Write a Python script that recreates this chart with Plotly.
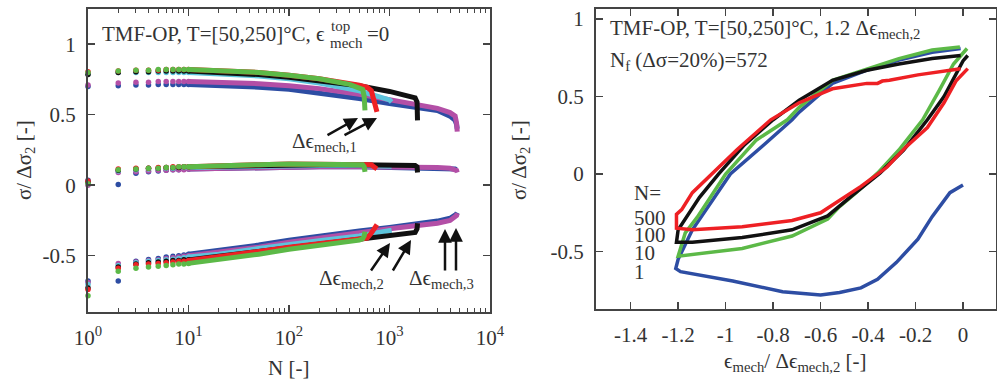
import plotly.graph_objects as go

W, H = 997, 381
FONT = "Liberation Serif, Times New Roman, Times, serif"
TXT = "#333333"
AX = "#444444"

# ---------------- left panel: normalised max / mean / min stress per cycle ----------------
BLUE_N = [1, 2, 3, 4, 5, 6, 7, 8, 9, 10, 20, 50, 100, 200, 500, 1000, 2000, 3000, 4000, 4500, 4650, 4720]
BLUE_MAX = [0.70, 0.705, 0.71, 0.71, 0.715, 0.715, 0.715, 0.715, 0.715, 0.715, 0.71, 0.695, 0.68, 0.655, 0.615, 0.58, 0.55, 0.53, 0.49, 0.46, 0.43, 0.40]
BLUE_MEAN = [0.035, 0.005, 0.085, 0.095, 0.10, 0.105, 0.11, 0.11, 0.115, 0.115, 0.12, 0.125, 0.13, 0.13, 0.13, 0.125, 0.125, 0.125, 0.12, 0.115, 0.11, 0.11]
BLUE_MIN = [-0.68, -0.68, -0.54, -0.527, -0.52, -0.51, -0.505, -0.50, -0.495, -0.49, -0.465, -0.425, -0.39, -0.36, -0.325, -0.30, -0.275, -0.255, -0.235, -0.215, -0.205, -0.195]

MAGENTA_N = [1, 2, 3, 4, 5, 6, 7, 8, 9, 10, 20, 50, 100, 200, 500, 1000, 2000, 3000, 4000, 4500, 4650, 4720]
MAGENTA_MAX = [0.71, 0.725, 0.73, 0.73, 0.735, 0.735, 0.735, 0.735, 0.735, 0.735, 0.73, 0.72, 0.705, 0.685, 0.645, 0.605, 0.57, 0.545, 0.515, 0.49, 0.44, 0.38]
MAGENTA_MEAN = [0.0, 0.09, 0.095, 0.10, 0.105, 0.105, 0.11, 0.11, 0.11, 0.115, 0.12, 0.125, 0.13, 0.13, 0.13, 0.13, 0.13, 0.125, 0.12, 0.115, 0.105, 0.09]
MAGENTA_MIN = [-0.69, -0.555, -0.545, -0.535, -0.53, -0.52, -0.515, -0.51, -0.505, -0.50, -0.475, -0.44, -0.405, -0.375, -0.34, -0.31, -0.285, -0.27, -0.25, -0.23, -0.215, -0.20]

CYAN_N = [1, 2, 3, 4, 5, 6, 7, 8, 9, 10, 20, 50, 100, 200, 500, 800, 1000, 1050]
CYAN_MAX = [0.79, 0.80, 0.80, 0.80, 0.80, 0.80, 0.80, 0.80, 0.80, 0.80, 0.79, 0.775, 0.755, 0.725, 0.67, 0.63, 0.605, 0.59]
CYAN_MEAN = [0.025, 0.10, 0.11, 0.115, 0.12, 0.12, 0.12, 0.125, 0.125, 0.125, 0.13, 0.135, 0.14, 0.14, 0.14, 0.14, 0.14, 0.135]
CYAN_MIN = [-0.705, -0.57, -0.55, -0.54, -0.535, -0.53, -0.525, -0.52, -0.515, -0.51, -0.49, -0.45, -0.42, -0.395, -0.36, -0.34, -0.325, -0.32]

BLACK_N = [1, 2, 3, 4, 5, 6, 7, 8, 9, 10, 20, 50, 100, 200, 500, 1000, 1500, 1800, 1880, 1900]
BLACK_MAX = [0.785, 0.80, 0.805, 0.805, 0.81, 0.81, 0.81, 0.81, 0.81, 0.81, 0.80, 0.785, 0.765, 0.74, 0.705, 0.665, 0.635, 0.62, 0.59, 0.46]
BLACK_MEAN = [0.02, 0.105, 0.115, 0.12, 0.12, 0.125, 0.125, 0.125, 0.13, 0.13, 0.135, 0.14, 0.145, 0.145, 0.145, 0.145, 0.14, 0.14, 0.13, 0.09]
BLACK_MIN = [-0.73, -0.58, -0.56, -0.55, -0.545, -0.54, -0.535, -0.535, -0.53, -0.53, -0.505, -0.47, -0.44, -0.415, -0.385, -0.365, -0.35, -0.335, -0.31, -0.27]

RED_N = [1, 2, 3, 4, 5, 6, 7, 8, 9, 10, 20, 50, 100, 200, 500, 600, 660, 700, 750]
RED_MAX = [0.805, 0.81, 0.815, 0.815, 0.815, 0.82, 0.82, 0.82, 0.82, 0.82, 0.815, 0.80, 0.78, 0.755, 0.71, 0.695, 0.67, 0.60, 0.52]
RED_MEAN = [0.03, 0.115, 0.12, 0.12, 0.125, 0.125, 0.13, 0.13, 0.13, 0.13, 0.14, 0.145, 0.15, 0.15, 0.15, 0.15, 0.145, 0.13, 0.115]
RED_MIN = [-0.74, -0.59, -0.565, -0.56, -0.555, -0.55, -0.545, -0.54, -0.54, -0.535, -0.51, -0.47, -0.44, -0.415, -0.385, -0.375, -0.34, -0.31, -0.28]

GREEN_N = [1, 2, 3, 4, 5, 6, 7, 8, 9, 10, 20, 50, 100, 200, 400, 500, 540, 560, 570]
GREEN_MAX = [0.80, 0.81, 0.815, 0.815, 0.82, 0.82, 0.82, 0.82, 0.82, 0.82, 0.815, 0.80, 0.78, 0.755, 0.715, 0.695, 0.68, 0.63, 0.53]
GREEN_MEAN = [0.01, 0.11, 0.115, 0.12, 0.12, 0.125, 0.125, 0.13, 0.13, 0.13, 0.14, 0.145, 0.15, 0.15, 0.15, 0.15, 0.145, 0.13, 0.095]
GREEN_MIN = [-0.785, -0.61, -0.59, -0.58, -0.575, -0.57, -0.565, -0.56, -0.56, -0.555, -0.53, -0.49, -0.455, -0.43, -0.40, -0.39, -0.38, -0.36, -0.33]

# ---------------- right panel: hysteresis loops (strain / stress) ----------------
LOOP1_EPS = [0.0, -0.055, -0.13, -0.19, -0.28, -0.36, -0.43, -0.52, -0.60, -0.76, -0.97, -1.19, -1.21,
             -1.2, -1.14, -0.98, -0.83, -0.72, -0.69, -0.55, -0.405, -0.27, -0.13, -0.01]
LOOP1_SIG = [-0.07, -0.12, -0.275, -0.42, -0.57, -0.68, -0.735, -0.765, -0.78, -0.76, -0.69, -0.63, -0.61,
             -0.55, -0.36, 0.0, 0.20, 0.35, 0.40, 0.585, 0.67, 0.735, 0.785, 0.81]

LOOP10_EPS = [0.017, -0.04, -0.10, -0.17, -0.27, -0.36, -0.45, -0.52, -0.57, -0.72, -0.93, -1.14, -1.2,
              -1.2, -1.17, -1.12, -1.0, -0.87, -0.74, -0.69, -0.55, -0.405, -0.27, -0.13, -0.013]
LOOP10_SIG = [0.81, 0.71, 0.54, 0.35, 0.155, 0.006, -0.12, -0.21, -0.29, -0.40, -0.48, -0.52, -0.53,
              -0.53, -0.38, -0.28, 0.0, 0.22, 0.35, 0.43, 0.605, 0.68, 0.745, 0.80, 0.82]

LOOP100_EPS = [0.02, 0.0, -0.08, -0.15, -0.25, -0.35, -0.46, -0.52, -0.57, -0.72, -0.93, -1.14, -1.207,
               -1.2, -1.165, -1.11, -1.03, -0.92, -0.80, -0.69, -0.55, -0.405, -0.27, -0.13, -0.01]
LOOP100_SIG = [0.765, 0.73, 0.50, 0.35, 0.155, 0.006, -0.13, -0.21, -0.27, -0.36, -0.41, -0.44, -0.44,
               -0.36, -0.28, -0.15, 0.0, 0.19, 0.35, 0.476, 0.605, 0.67, 0.71, 0.745, 0.765]

LOOP500_EPS = [0.02, -0.03, -0.08, -0.15, -0.24, -0.32, -0.43, -0.52, -0.60, -0.72, -0.93, -1.14, -1.207,
               -1.207, -1.185, -1.14, -1.06, -0.95, -0.81, -0.69, -0.55, -0.405, -0.36, -0.34, -0.31, -0.19, -0.01]
LOOP500_SIG = [0.68, 0.60, 0.46, 0.30, 0.175, 0.045, -0.08, -0.17, -0.25, -0.30, -0.34, -0.36, -0.35,
               -0.26, -0.23, -0.12, 0.0, 0.16, 0.35, 0.46, 0.55, 0.585, 0.585, 0.60, 0.605, 0.64, 0.68]

# ---------------- tick labels ----------------
LX_TICKS = [1, 10, 100, 1000, 10000]
LX_TEXT = ["10<sup>0</sup>", "10<sup>1</sup>", "10<sup>2</sup>", "10<sup>3</sup>", "10<sup>4</sup>"]
Y_TICKS = [-0.5, 0, 0.5, 1]
Y_TEXT = ["-0.5", "0", "0.5", "1"]
RX_TICKS = [-1.4, -1.2, -1.0, -0.8, -0.6, -0.4, -0.2, 0.0]
RX_TEXT = ["-1.4", "-1.2", "-1", "-0.8", "-0.6", "-0.4", "-0.2", "0"]

C_BLUE = "#2d4da3"
C_MAG = "#b34fa6"
C_CYAN = "#5cc4dc"
C_BLACK = "#111111"
C_RED = "#ee2024"
C_GREEN = "#5cb947"

fig = go.Figure()

def add_series(N, vals, color):
    dots_x = [n for n in N if n <= 10]
    dots_y = [v for n, v in zip(N, vals) if n <= 10]
    line_x = [n for n in N if n >= 10]
    line_y = [v for n, v in zip(N, vals) if n >= 10]
    fig.add_trace(go.Scatter(x=dots_x, y=dots_y, mode="markers", xaxis="x", yaxis="y", cliponaxis=False,
                             marker=dict(size=5.5, color=color), showlegend=False, hoverinfo="skip"))
    fig.add_trace(go.Scatter(x=line_x, y=line_y, mode="lines", xaxis="x", yaxis="y",
                             line=dict(width=5, color=color), showlegend=False, hoverinfo="skip"))

for N, a, b, c, col in [
    (BLUE_N, BLUE_MAX, BLUE_MEAN, BLUE_MIN, C_BLUE),
    (MAGENTA_N, MAGENTA_MAX, MAGENTA_MEAN, MAGENTA_MIN, C_MAG),
    (CYAN_N, CYAN_MAX, CYAN_MEAN, CYAN_MIN, C_CYAN),
    (BLACK_N, BLACK_MAX, BLACK_MEAN, BLACK_MIN, C_BLACK),
    (RED_N, RED_MAX, RED_MEAN, RED_MIN, C_RED),
    (GREEN_N, GREEN_MAX, GREEN_MEAN, GREEN_MIN, C_GREEN),
]:
    for v in (a, b, c):
        add_series(N, v, col)

for ex, sy, col in [(LOOP1_EPS, LOOP1_SIG, C_BLUE), (LOOP10_EPS, LOOP10_SIG, C_GREEN),
                    (LOOP100_EPS, LOOP100_SIG, C_BLACK), (LOOP500_EPS, LOOP500_SIG, C_RED)]:
    fig.add_trace(go.Scatter(x=ex, y=sy, mode="lines", xaxis="x2", yaxis="y2",
                             line=dict(width=3.5, color=col), showlegend=False, hoverinfo="skip"))

def px(x):
    return x / W

def py(y):
    return 1 - y / H

axis_common = dict(showline=True, linecolor=AX, linewidth=2, mirror="allticks", ticks="inside",
                   ticklen=7, tickwidth=1.5, tickcolor=AX, showgrid=False, zeroline=False,
                   automargin=False,
                   tickfont=dict(family=FONT, size=21, color=TXT), ticklabelstandoff=6)

fig.update_layout(
    width=W, height=H, margin=dict(l=0, r=0, t=0, b=0, pad=0), autosize=False,
    paper_bgcolor="white", plot_bgcolor="white", showlegend=False,
    font=dict(family=FONT, size=21, color=TXT),
    xaxis=dict(domain=[px(88), px(490)], type="log", range=[0, 4], tickmode="array",
               tickvals=LX_TICKS, ticktext=LX_TEXT, anchor="y",
               minor=dict(ticks="inside", ticklen=4, tickcolor=AX, tickwidth=1, dtick="D1", showgrid=False),
               **axis_common),
    yaxis=dict(domain=[py(312), py(9)], range=[-0.9, 1.25], tickmode="array",
               tickvals=Y_TICKS, ticktext=Y_TEXT, anchor="x", **axis_common),
    xaxis2=dict(domain=[px(596), px(996)], range=[-1.546, 0.139], tickmode="array",
                tickvals=RX_TICKS, ticktext=RX_TEXT, anchor="y2", **axis_common),
    yaxis2=dict(domain=[py(309), py(9)], range=[-0.871, 1.065], tickmode="array",
                tickvals=Y_TICKS, ticktext=Y_TEXT, anchor="x2", **axis_common),
)

def note(text, x, y, size=21, xanchor="left", yanchor="middle", angle=0):
    fig.add_annotation(text=text, x=px(x), y=py(y), xref="paper", yref="paper", showarrow=False,
                       xanchor=xanchor, yanchor=yanchor, textangle=angle,
                       font=dict(family=FONT, size=size, color=TXT))

def arrow(hx, hy, tx, ty):
    fig.add_annotation(text="", x=px(hx), y=py(hy), xref="paper", yref="paper", showarrow=True,
                       ax=tx - hx, ay=ty - hy, axref="pixel", ayref="pixel",
                       arrowhead=2, arrowsize=1.1, arrowwidth=2.5, arrowcolor="#111111")

# left panel texts
note("TMF-OP, T=[50,250]°C, ϵ", 100, 34)
note("top", 329, 26, size=15)
note("mech", 328, 43, size=15)
note("=0", 365, 34)
note("Δϵ<sub>mech,1</sub>", 290, 142)
note("Δϵ<sub>mech,2</sub>", 317, 279)
note("Δϵ<sub>mech,3</sub>", 407, 279)
arrow(358, 118, 326, 136)
arrow(377, 118, 343, 136)
arrow(390, 243, 370, 272)
arrow(411, 240, 392, 272)
arrow(445, 229, 445, 272)
arrow(456, 228, 456, 272)
note("σ/ Δσ<sub>2</sub> [-]", 25, 160, xanchor="center", angle=-90)
note("N [-]", 288, 368, xanchor="center")

# right panel texts
note("TMF-OP, T=[50,250]°C, 1.2 Δϵ<sub>mech,2</sub>", 608, 29)
note("N<sub>f</sub> (Δσ=20%)=572", 608, 61)
note("N=", 632, 193)
note("500", 632, 218)
note("100", 632, 235)
note("10", 632, 253)
note("1", 632, 272)
note("σ/ Δσ<sub>2</sub> [-]", 520, 160, xanchor="center", angle=-90)
note("ϵ<sub>mech</sub>/ Δϵ<sub>mech,2</sub> [-]", 795, 362, xanchor="center")

fig.write_html("out.html", config={"displayModeBar": False, "staticPlot": True},
               post_script="document.body.style.margin='0px';document.body.style.padding='0px';")
